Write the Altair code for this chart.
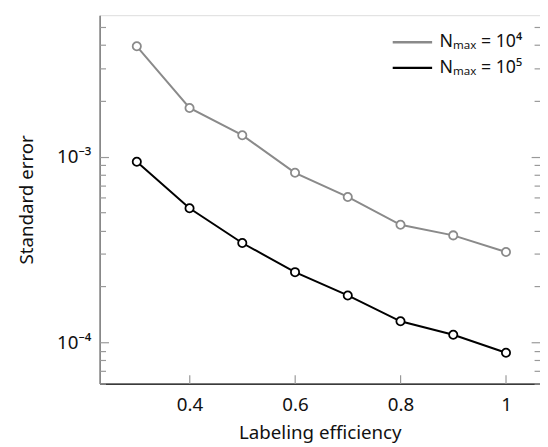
import altair as alt
import pandas as pd

# data
efficiency = [0.3, 0.4, 0.5, 0.6, 0.7, 0.8, 0.9, 1.0]
se_n1e4 = [3.93e-3, 1.83e-3, 1.305e-3, 8.19e-4, 6.07e-4, 4.30e-4, 3.77e-4, 3.07e-4]
se_n1e5 = [9.40e-4, 5.28e-4, 3.43e-4, 2.39e-4, 1.79e-4, 1.30e-4, 1.10e-4, 8.8e-5]
series_names = ["Nₘₐₓ = 10⁴", "Nₘₐₓ = 10⁵"]
series_colors = ["#8a8a8a", "#000000"]

x_ticks = [0.4, 0.6, 0.8, 1.0]
y_major = [1e-4, 1e-3]
y_minor = [6e-5, 7e-5, 8e-5, 9e-5,
           2e-4, 3e-4, 4e-4, 5e-4, 6e-4, 7e-4, 8e-4, 9e-4,
           2e-3, 3e-3, 4e-3, 5e-3]
y_all = y_major + y_minor

df = pd.DataFrame({
    "eff": efficiency * 2,
    "se": se_n1e4 + se_n1e5,
    "series": [series_names[0]] * len(efficiency) + [series_names[1]] * len(efficiency),
})

W, H = 447, 374
FONT = "Noto Sans"
FS = 19

xscale = alt.Scale(domain=[0.2295, 1.0645], nice=False, zero=False)
yscale = alt.Scale(type="log", domain=[6e-5, 5.78e-3], nice=False)

major_test = "abs(log(datum.value)/LN10 - round(log(datum.value)/LN10)) < 0.01"
tick_size = {"condition": {"test": major_test, "value": 9}, "value": 6}

base = alt.Chart(df)

lines = base.mark_line(strokeWidth=2).encode(
    x=alt.X("eff:Q", scale=xscale,
            axis=alt.Axis(title="Labeling efficiency", values=x_ticks, format="~g",
                          ticks=False, grid=False, domain=True, domainColor="#000",
                          domainWidth=1.2, labelPadding=12, titlePadding=10,
                          labelFontSize=FS, titleFontSize=FS, labelFont=FONT,
                          titleFont=FONT, titleFontWeight="normal", labelColor="#111",
                          titleColor="#111")),
    y=alt.Y("se:Q", scale=yscale,
            axis=alt.Axis(title="Standard error", values=y_major,
                          labelExpr="datum.value > 0.0005 ? '10⁻³' : '10⁻⁴'",
                          ticks=False, grid=False, domain=True, domainColor="#777",
                          domainWidth=1.5, labelPadding=9, titlePadding=20,
                          labelFontSize=FS, titleFontSize=FS, labelFont=FONT,
                          titleFont=FONT, titleFontWeight="normal", labelColor="#111",
                          titleColor="#111")),
    color=alt.Color("series:N", scale=alt.Scale(domain=series_names, range=series_colors),
                    legend=alt.Legend(title=None, orient="none", legendX=306, legendY=16,
                                      symbolType="M-2,0H2", symbolSize=400,
                                      symbolStrokeWidth=2.5, labelFontSize=18,
                                      labelFont=FONT, labelColor="#111",
                                      padding=0, rowPadding=5, labelOffset=16)),
)

points = base.mark_point(shape="circle", filled=True, fill="white", size=70,
                         strokeWidth=1.8, opacity=1).encode(
    x=alt.X("eff:Q", scale=xscale, axis=None),
    y=alt.Y("se:Q", scale=yscale, axis=None),
    stroke=alt.Stroke("series:N", scale=alt.Scale(domain=series_names, range=series_colors),
                      legend=None),
)

# inward ticks on the left edge
left_ticks = base.mark_point(opacity=0).encode(
    x=alt.X("eff:Q", scale=xscale, axis=None),
    y=alt.Y("se:Q", scale=yscale,
            axis=alt.Axis(orient="right", offset=-W, values=y_all, labels=False,
                          domain=False, grid=False, title=None, tickColor="#999",
                          tickWidth=1.2, tickSize=tick_size)),
)

# inward ticks on the right edge
right_ticks = base.mark_point(opacity=0).encode(
    x=alt.X("eff:Q", scale=xscale, axis=None),
    y=alt.Y("se:Q", scale=yscale,
            axis=alt.Axis(orient="left", offset=-W, values=y_all, labels=False,
                          domain=False, grid=False, title=None, tickColor="#999",
                          tickWidth=1.2, tickSize=tick_size)),
)

# inward ticks on the bottom edge
bottom_ticks = base.mark_point(opacity=0).encode(
    x=alt.X("eff:Q", scale=xscale,
            axis=alt.Axis(orient="top", offset=-H, values=x_ticks, labels=False,
                          domain=False, grid=False, title=None, tickColor="#999",
                          tickWidth=1.2, tickSize=9)),
    y=alt.Y("se:Q", scale=yscale, axis=None),
)

chart = alt.layer(lines, points, left_ticks, right_ticks, bottom_ticks).resolve_axis(
    x="independent", y="independent"
).properties(
    width=W, height=H,
    autosize=alt.AutoSizeParams(type="none"),
    padding={"left": 93, "top": 4, "right": 0, "bottom": 58},
).configure_view(stroke="#333", strokeWidth=1.2).configure(background="white")

chart.save("out.html", embed_options={"renderer": "svg", "actions": False})
